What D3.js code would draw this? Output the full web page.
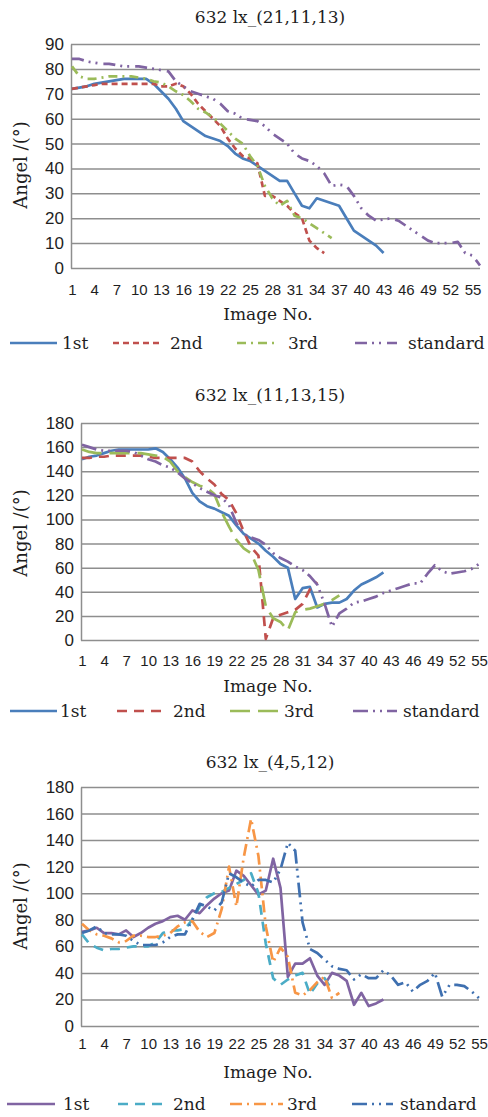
<!DOCTYPE html>
<html lang="en">
<head>
<meta charset="UTF-8">
<title>632 lx angle curves</title>
<script src="https://d3js.org/d3.v7.min.js"></script>
<style>
  body { margin: 0; background: #fff; }
  svg { display: block; font-family: "DejaVu Serif", serif; }
  text { fill: #1e1e1e; }
  .grid line { stroke: #8e8e8e; stroke-width: 1.5; }
  .grid .domain { stroke: #8e8e8e; stroke-width: 1.5; }
  .grid text { font-size: 17px; }
  .xaxis text { font-size: 15px; }
  .series { fill: none; stroke-width: 2.7; stroke-linejoin: round; }
</style>
</head>
<body>
<svg width="488" height="1117"></svg>
<script>
const seriesNames = ["1st", "2nd", "3rd", "standard"];

// chart A: 632 lx_(21,11,13)
const titleA = "632 lx_(21,11,13)";
const countA = 56;
const yTicksA = [0, 10, 20, 30, 40, 50, 60, 70, 80, 90];
const firstA = [72, 72.5, 73, 74, 74.5, 75, 75.5, 76, 76, 76, 76, 74, 71, 68, 64, 59, 57, 55, 53, 52,
  51, 49, 46, 44, 43, 41, 39, 37, 35, 35, 30, 25, 24, 28, 27, 26, 25, 20, 15, 13, 11, 9, 6];
const secondA = [72, 72.5, 73, 73.5, 74, 74, 74, 74, 74, 74, 74, 74, 73, 73, 74, 73, 70, 66, 63, 60,
  57, 52, 48, 45, 44, 42, 29, 29, 27, 25, 22, 20, 11, 8, 6];
const thirdA = [81, 77, 76, 76, 76.5, 77, 77, 77, 77, 76.5, 76, 75, 74.5, 73, 71, 69.5, 67, 64, 62.5, 60.5,
  58, 55, 52, 50, 45, 41, 33, 28, 25, 27, 21, 20, 18, 16, 14, 12];
const standardA = [84, 84, 83, 82.5, 82, 82, 81.5, 81, 81, 81, 80.5, 80, 79.5, 79, 75, 73, 71, 70, 69, 68,
  66, 63, 62, 60, 59.5, 59, 57, 54, 52, 50, 46, 44, 43, 41, 38, 33, 33.5, 33, 29, 24,
  21, 19, 19.5, 20, 19, 17, 15, 13, 11, 10, 10, 10, 10.5, 6, 5, 1];

// chart B: 632 lx_(11,13,15)
const titleB = "632 lx_(11,13,15)";
const countB = 55;
const yTicksB = [0, 20, 40, 60, 80, 100, 120, 140, 160, 180];
const firstB = [150, 152, 153, 155, 157, 158, 158, 158, 158, 158, 159, 156, 150, 143, 134, 122, 115, 111, 109, 106,
  103, 95, 88, 84, 80, 74, 69, 63, 60, 34, 43, 44, 27, 30, 31, 31, 34, 41, 46, 49, 52, 56];
const secondB = [151, 151, 152, 152, 153, 153, 153, 153, 153, 152, 151, 151, 151, 151, 151, 148, 140, 134, 129, 121,
  116, 105, 90, 77, 70, 1, 18, 21, 23, 25, 30, 42, 48];
const thirdB = [158, 156, 155, 155, 155, 155, 155, 155, 155, 154, 153, 152, 148, 140, 135, 131, 128, 126, 121, 106,
  94, 83, 76, 72, 58, 28, 18, 15, 8, 23, 25, 26, 28, 30, 33, 37];
const standardB = [162, 160, 158, 157, 157, 157, 157, 156, 153, 150, 148, 145, 143, 139, 134, 130, 126, 123, 120, 118,
  112, 97, 88, 85, 83, 79, 72, 68, 65, 61, 58, 53, 46, 30, 11, 22, 26, 31, 32, 34,
  36, 39, 41, 43, 45, 47, 47, 55, 62, 57, 55, 56, 57, 59, 63];

// chart C: 632 lx_(4,5,12)
const titleC = "632 lx_(4,5,12)";
const countC = 55;
const yTicksC = [0, 20, 40, 60, 80, 100, 120, 140, 160, 180];
const firstC = [71, 72, 74, 70, 70, 69, 72, 67, 70, 74, 77, 79, 82, 83, 80, 87, 85, 91, 96, 100,
  102, 117, 113, 106, 99, 102, 126, 104, 37, 47, 47, 51, 38, 31, 40, 38, 34, 16, 25, 15, 17, 20];
const secondC = [69, 62, 59, 57, 58, 58, 59, 60, 60, 60, 63, 70, 72, 72, 73, 80, 90, 97, 100, 101,
  104, 107, 110, 115, 100, 62, 36, 31, 35, 38, 40, 24, 32, 36, 27];
const thirdC = [77, 72, 69, 68, 66, 63, 64, 68, 68, 67, 67, 68, 70, 75, 78, 79, 71, 67, 70, 88,
  120, 90, 127, 156, 128, 75, 48, 59, 52, 25, 23, 27, 33, 37, 21, 25];
const standardC = [70, 72, 75, 70, 69, 69, 68, 64, 61, 61, 61, 63, 67, 69, 69, 80, 92, 90, 87, 93,
  115, 112, 108, 105, 110, 110, 108, 118, 138, 132, 78, 58, 55, 50, 45, 43, 42, 35, 39, 36,
  36, 42, 38, 31, 33, 26, 31, 34, 40, 22, 31, 31, 30, 26, 21];

const svg = d3.select("svg");

const charts = [
  {
    title: titleA, count: countA, yMax: 90, yTicks: yTicksA,
    values: [firstA, secondA, thirdA, standardA],
    colors: ["#4a7ebb", "#c0504d", "#9bbb59", "#8064a2"],
    dashes: [null, "6,4", "9,5,2,5", "12,5,2,5,2,6"],
    left: 71, right: 480, top: 44, bottom: 268,
    titleY: 23, xLabelY: 295, xTitleY: 320, yTitleY: 165, legendY: 343,
    legend: [[10, 57, 62], [113, 163, 170], [237, 277, 288], [355, 397, 408]]
  },
  {
    title: titleB, count: countB, yMax: 180, yTicks: yTicksB,
    values: [firstB, secondB, thirdB, standardB],
    colors: ["#4a7ebb", "#c0504d", "#9bbb59", "#8064a2"],
    dashes: [null, "10,7", "20,8", "15,5,2,5,2,5"],
    left: 81, right: 479, top: 423, bottom: 640,
    titleY: 401, xLabelY: 666, xTitleY: 692, yTitleY: 533, legendY: 711,
    legend: [[10, 57, 60], [117, 167, 173], [230, 280, 284], [353, 397, 403]]
  },
  {
    title: titleC, count: countC, yMax: 180, yTicks: yTicksC,
    values: [firstC, secondC, thirdC, standardC],
    colors: ["#8064a2", "#4bacc6", "#f79646", "#3f70b0"],
    dashes: [null, "10,7", "12,5,2,5", "15,5,2,5,2,5"],
    left: 81, right: 479, top: 787, bottom: 1026,
    titleY: 768, xLabelY: 1049, xTitleY: 1078, yTitleY: 906, legendY: 1104,
    legend: [[7, 55, 63], [118, 167, 173], [230, 283, 287], [352, 393, 400]]
  }
];

function drawChart(c) {
  const g = svg.append("g");
  const cats = d3.range(1, c.count + 1);
  const x = d3.scalePoint().domain(cats).range([c.left + 1, c.right]);
  const y = d3.scaleLinear().domain([0, c.yMax]).range([c.bottom, c.top]);

  // gridlines + y labels
  g.append("g")
    .attr("class", "grid")
    .attr("transform", `translate(${c.left},0)`)
    .call(d3.axisLeft(y).tickValues(c.yTicks)
      .tickSizeInner(-(c.right - c.left)).tickSizeOuter(0).tickPadding(7));

  // x labels, every third image
  const xFont = 15;
  g.append("g")
    .attr("class", "xaxis")
    .attr("transform", `translate(0,${c.bottom})`)
    .call(d3.axisBottom(x).tickValues(cats.filter(d => (d - 1) % 3 === 0))
      .tickSize(0).tickPadding(c.xLabelY - c.bottom - 0.71 * xFont))
    .call(s => s.select(".domain").remove());

  g.selectAll(".tick text").attr("fill", "#1e1e1e");

  const line = d3.line()
    .x((d, i) => x(i + 1))
    .y(d => y(d));

  c.values.forEach((vals, k) => {
    g.append("path")
      .attr("class", "series")
      .attr("d", line(vals))
      .attr("stroke", c.colors[k])
      .attr("stroke-dasharray", c.dashes[k]);
  });

  g.append("text")
    .attr("x", 270).attr("y", c.titleY)
    .attr("text-anchor", "middle")
    .attr("font-size", 17)
    .text(c.title);

  g.append("text")
    .attr("x", 268).attr("y", c.xTitleY)
    .attr("text-anchor", "middle")
    .attr("font-size", 17)
    .text("Image No.");

  g.append("text")
    .attr("transform", `translate(27,${c.yTitleY}) rotate(-90)`)
    .attr("text-anchor", "middle")
    .attr("font-size", 18)
    .text("Angel /(°)");

  const leg = g.append("g").attr("transform", `translate(0,${c.legendY})`);
  c.legend.forEach((p, k) => {
    leg.append("line")
      .attr("x1", p[0]).attr("x2", p[1])
      .attr("stroke", c.colors[k])
      .attr("stroke-width", 2.7)
      .attr("stroke-dasharray", c.dashes[k]);
    leg.append("text")
      .attr("x", p[2]).attr("dy", "0.35em")
      .attr("font-size", 17)
      .text(seriesNames[k]);
  });
}

charts.forEach(drawChart);
</script>
</body>
</html>
